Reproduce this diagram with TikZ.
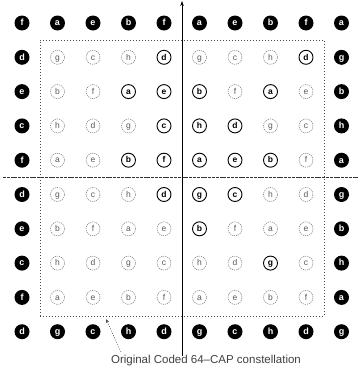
\documentclass[tikz,border=0pt]{standalone}
\usepackage{fontspec}
\setmainfont{Liberation Sans}
\usetikzlibrary{arrows.meta}
\def\tileletter#1{\ifcase#1 g\or c\or h\or d\or b\or f\or a\or e\or h\or d\or g\or c\or a\or e\or b\or f\fi}
\begin{document}
\begin{tikzpicture}[x=1pt,y=-1pt,
  outerpt/.style={circle,fill=black,text=white,inner sep=0pt,minimum size=15pt,
    font=\fontsize{9}{9}\selectfont\bfseries,text height=6.2pt,text depth=0.6pt},
  innerpt/.style={circle,draw=black!55,dash pattern=on 1.2pt off 0.9pt,line width=0.5pt,
    inner sep=0pt,minimum size=14pt,font=\fontsize{8.5}{9}\selectfont,text=black!65,
    text height=6pt,text depth=0.6pt},
  boldpt/.style={circle,draw=black,line width=0.9pt,inner sep=0pt,minimum size=14pt,
    font=\fontsize{8.5}{9}\selectfont\bfseries,text height=6pt,text depth=0.6pt},
  axisline/.style={line width=0.55pt,black},
  boxline/.style={draw=black!70,line width=0.5pt,dash pattern=on 1pt off 2pt},
  pointer/.style={black!70,line width=0.5pt,dash pattern=on 1pt off 1.5pt,
    -{Stealth[length=4pt,width=3pt]}},
  captext/.style={font=\fontsize{11.5}{12}\selectfont,text=black!75}
]
\useasboundingbox (0,0) rectangle (358,370);
% bold inner points
\foreach \p in {2-5,2-9,3-4,3-5,3-6,3-8,4-5,4-6,4-7,5-4,5-5,5-6,5-7,5-8,6-5,6-6,6-7,7-6,8-8}{
  \expandafter\gdef\csname bold-\p\endcsname{}}
% axes
\coordinate (vtop) at (182,1);
\coordinate (vbot) at (182,356);
\coordinate (hl) at (3,177);
\coordinate (hr) at (358,177);
\draw[axisline,black!80,dash pattern=on 3pt off 0.8pt] (hl) -- (hr);
\draw[axisline,-{Stealth[length=5pt,width=3.5pt]}] (vbot) -- (vtop);
% inner dotted box
\node[boxline,minimum width=284pt,minimum height=276pt,inner sep=0pt] (box) at (182,178) {};
% constellation points
\foreach \r in {1,...,10}{
  \foreach \c in {1,...,10}{
    \pgfmathtruncatemacro\tr{mod(\r+2,4)}
    \pgfmathtruncatemacro\tc{mod(\c+2,4)}
    \pgfmathtruncatemacro\idx{4*\tr+\tc}
    \pgfmathsetmacro\xx{22+35.5*(\c-1)}
    \pgfmathsetmacro\yy{23+34.3*(\r-1)}
    \pgfmathtruncatemacro\isouter{or(or(\r==1,\r==10),or(\c==1,\c==10))}
    \ifnum\isouter=1
      \node[outerpt] (n-\r-\c) at (\xx,\yy) {\tileletter{\idx}};
    \else
      \ifcsname bold-\r-\c\endcsname
        \node[boldpt] (n-\r-\c) at (\xx,\yy) {\tileletter{\idx}};
      \else
        \node[innerpt] (n-\r-\c) at (\xx,\yy) {\tileletter{\idx}};
      \fi
    \fi
  }
}
% pointer and caption
\coordinate (tip) at (106,319);
\coordinate (tail) at (121,352);
\draw[pointer] (tail) -- (tip);
\node[captext] (cap) at (206,361) {Original Coded 64--CAP constellation};
\end{tikzpicture}
\end{document}
